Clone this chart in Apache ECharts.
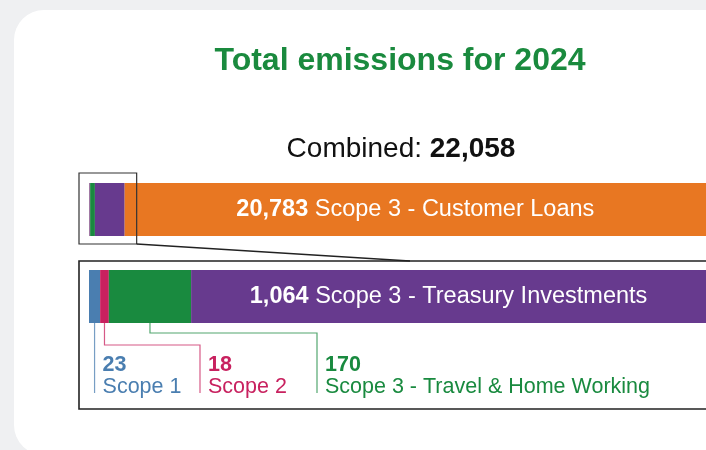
<!DOCTYPE html>
<html>
<head>
<meta charset="utf-8">
<script src="https://cdn.jsdelivr.net/npm/echarts@6/dist/echarts.min.js"></script>
<style>
  html, body { margin: 0; padding: 0; background: #eff0f2; }
  #chart { width: 706px; height: 450px; }
</style>
</head>
<body>
<div id="chart"></div>
<script>
// Emission components for the year, smallest to largest
const categories = [
  'Scope 1',
  'Scope 2',
  'Scope 3 - Travel & Home Working',
  'Scope 3 - Treasury Investments',
  'Scope 3 - Customer Loans'
];
const emissions = [23, 18, 170, 1064, 20783];
const titleText = 'Total emissions for 2024';
const combinedLabel = 'Combined:';

// Styling
const segmentColors = ['#4a7eb0', '#c8215f', '#198a3f', '#673a8e', '#e87722'];
const FONT = '"Liberation Sans", Arial, Helvetica, sans-serif';
const TITLE_GREEN = '#1a8a3e';
const BAR_FONT = 23.5;
const CALLOUT_FONT = 21.5;

// Layout of the two bars (overview bar and expanded detail bar)
const GRID_TOP = { left: 89, top: 183, width: 621, height: 53 };
const GRID_DETAIL = { left: 89, top: 270, width: 623, height: 53 };
// Callout positions for the small components under the detail bar
const calloutX = [null, 200, 317];
const elbowY = [null, 345, 333];

const fmt = v => v.toLocaleString('en-US');
const total = emissions.reduce((a, b) => a + b, 0);
const detail = emissions.slice(0, 4);
const detailTotal = detail.reduce((a, b) => a + b, 0);

const chart = echarts.init(document.getElementById('chart'), null, { renderer: 'canvas' });

function barLabel(i, show) {
  return {
    show: show,
    position: 'inside',
    formatter: () => `{v|${fmt(emissions[i])}}{n| ${categories[i]}}`,
    rich: {
      v: { color: '#fff', fontFamily: FONT, fontSize: BAR_FONT, fontWeight: 'bold' },
      n: { color: '#fff', fontFamily: FONT, fontSize: BAR_FONT }
    }
  };
}

const series = [];
emissions.forEach((v, i) => {
  series.push({
    type: 'bar', name: categories[i], stack: 'overview',
    xAxisIndex: 0, yAxisIndex: 0, barWidth: '100%',
    data: [v], itemStyle: { color: segmentColors[i] },
    label: barLabel(i, i === 4), silent: true, animation: false
  });
});
detail.forEach((v, i) => {
  series.push({
    type: 'bar', name: categories[i], stack: 'detail',
    xAxisIndex: 1, yAxisIndex: 1, barWidth: '100%',
    data: [v], itemStyle: { color: segmentColors[i] },
    label: barLabel(i, i === 3), silent: true, animation: false
  });
});

chart.setOption({
  backgroundColor: '#eff0f2',
  animation: false,
  grid: [GRID_TOP, GRID_DETAIL],
  xAxis: [
    { type: 'value', gridIndex: 0, min: 0, max: total, show: false },
    { type: 'value', gridIndex: 1, min: 0, max: detailTotal, show: false }
  ],
  yAxis: [
    { type: 'category', gridIndex: 0, data: [''], show: false },
    { type: 'category', gridIndex: 1, data: [''], show: false }
  ],
  series: series
});

// Pixel helpers through the chart's own axes
const xTop = v => chart.convertToPixel({ gridIndex: 0 }, [v, 0])[0];
const xDetail = v => chart.convertToPixel({ gridIndex: 1 }, [v, 0])[0];

const graphics = [];

// White card
graphics.push({
  type: 'rect', z: -10, silent: true,
  shape: { x: 14, y: 10, width: 780, height: 445, r: 30 },
  style: { fill: '#ffffff' }
});

// Heading and combined total
graphics.push({
  type: 'text', z: 10, silent: true,
  style: {
    text: titleText, x: 400, y: 61, align: 'center', verticalAlign: 'middle',
    fill: TITLE_GREEN, fontFamily: FONT, fontSize: 32, fontWeight: 'bold'
  }
});
graphics.push({
  type: 'text', z: 10, silent: true,
  style: {
    text: `{a|${combinedLabel} }{b|${fmt(total)}}`,
    x: 401, y: 149, align: 'center', verticalAlign: 'middle',
    rich: {
      a: { fill: '#111', fontFamily: FONT, fontSize: 28 },
      b: { fill: '#111', fontFamily: FONT, fontSize: 28, fontWeight: 'bold' }
    }
  }
});

// Zoom frame around the small components on the overview bar
const frameLeft = xTop(0) - 10;
const frameRight = xTop(detailTotal) + 12;
const frameTop = GRID_TOP.top - 10;
const frameBottom = GRID_TOP.top + GRID_TOP.height + 8;
graphics.push({
  type: 'rect', z: 20, silent: true,
  shape: { x: frameLeft, y: frameTop, width: frameRight - frameLeft, height: frameBottom - frameTop },
  style: { fill: 'none', stroke: '#333', lineWidth: 1.2 }
});

// Expanded panel
const panelTop = GRID_DETAIL.top - 9;
graphics.push({
  type: 'rect', z: 20, silent: true,
  shape: { x: frameLeft, y: panelTop, width: 700, height: 148 },
  style: { fill: 'none', stroke: '#222', lineWidth: 1.6 }
});
graphics.push({
  type: 'line', z: 20, silent: true,
  shape: { x1: frameRight, y1: frameBottom, x2: 410, y2: panelTop },
  style: { stroke: '#222', lineWidth: 1.3 }
});

// Callouts for the small components
const barBottom = GRID_DETAIL.top + GRID_DETAIL.height;
const lineEnd = 393;
let start = 0;
for (let i = 0; i < 3; i++) {
  const cx = xDetail(start + detail[i] / 2);
  start += detail[i];
  const pts = calloutX[i] === null
    ? [[cx, barBottom], [cx, lineEnd]]
    : [[cx, barBottom], [cx, elbowY[i]], [calloutX[i], elbowY[i]], [calloutX[i], lineEnd]];
  const anchor = calloutX[i] === null ? cx : calloutX[i];
  graphics.push({
    type: 'polyline', z: 20, silent: true,
    shape: { points: pts },
    style: { stroke: segmentColors[i], lineWidth: 1.2, opacity: 0.75, fill: 'none' }
  });
  graphics.push({
    type: 'text', z: 20, silent: true,
    style: {
      text: fmt(detail[i]), x: anchor + 8, y: 365, align: 'left', verticalAlign: 'middle',
      fill: segmentColors[i], fontFamily: FONT, fontSize: CALLOUT_FONT, fontWeight: 'bold'
    }
  });
  graphics.push({
    type: 'text', z: 20, silent: true,
    style: {
      text: categories[i], x: anchor + 8, y: 387, align: 'left', verticalAlign: 'middle',
      fill: segmentColors[i], fontFamily: FONT, fontSize: CALLOUT_FONT
    }
  });
}

chart.setOption({ graphic: graphics });
</script>
</body>
</html>
